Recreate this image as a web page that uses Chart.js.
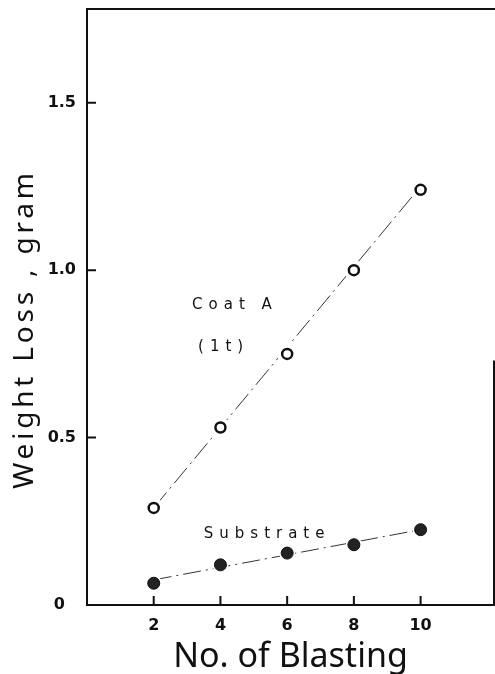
<!DOCTYPE html>
<html>
<head>
<meta charset="utf-8">
<script src="https://cdn.jsdelivr.net/npm/chart.js@4"></script>
<style>
  html, body { margin: 0; padding: 0; background: #fff; }
  #wrap { width: 495px; height: 674px; }
</style>
</head>
<body>
<div id="wrap"><canvas id="myChart"></canvas></div>
<script>
const blastings = [2, 4, 6, 8, 10];
const coatA = [0.29, 0.53, 0.75, 1.0, 1.24];
const substrate = [0.065, 0.12, 0.155, 0.18, 0.225];

const fitX = [2, 10];
const coatAFit = [0.29, 1.25];
const substrateFit = [0.075, 0.225];

const xTicks = [2, 4, 6, 8, 10];
const yTicks = [0, 0.5, 1.0, 1.5];
const yTickLabels = ['0  ', '0.5', '1.0', '1.5'];

const xTitle = 'No. of Blasting';
const yTitle = 'Weight Loss , gram';

const notes = [
  { text: 'Coat A', x: 3.15, y: 0.896 },
  { text: '(1t)', x: 3.33, y: 0.77 },
  { text: 'Substrate', x: 3.5, y: 0.212 },
];

const ink = '#111';
const toPoints = (xs, ys) => xs.map((x, i) => ({ x: x, y: ys[i] }));

// keep the plot box where the reference has it
const fixBox = (s, key, size) => {
  s[key] = size;
  s.paddingTop = 0;
  s.paddingBottom = 0;
  s.paddingLeft = 0;
  s.paddingRight = 0;
};


//Frame, inward ticks, y title and in-plot labels
const framePlugin = {
  id: 'frame',
  afterDraw(chart) {
    const { ctx, chartArea } = chart;
    const xs = chart.scales.x;
    const ys = chart.scales.y;
    ctx.save();
    ctx.strokeStyle = ink;
    ctx.lineWidth = 2;
    ctx.beginPath();
    ctx.moveTo(chartArea.left, chartArea.top);
    ctx.lineTo(chart.width, chartArea.top);
    // only the lower part of the right edge shows in the scan
    ctx.moveTo(chartArea.right, ys.getPixelForValue(0.73));
    ctx.lineTo(chartArea.right, chartArea.bottom);
    xTicks.forEach(v => {
      const px = xs.getPixelForValue(v);
      ctx.moveTo(px, chartArea.bottom);
      ctx.lineTo(px, chartArea.bottom - 9);
    });
    yTicks.filter(v => v > 0).forEach(v => {
      const py = ys.getPixelForValue(v);
      ctx.moveTo(chartArea.left, py);
      ctx.lineTo(chartArea.left + 9, py);
    });
    ctx.stroke();

    ctx.fillStyle = ink;
    ctx.font = '15px "DejaVu Sans"';
    ctx.letterSpacing = '6px';
    ctx.textBaseline = 'middle';
    notes.forEach(n => ctx.fillText(n.text, xs.getPixelForValue(n.x), ys.getPixelForValue(n.y)));

    ctx.translate(33, (chartArea.top + chartArea.bottom) / 2 + 22);
    ctx.rotate(-Math.PI / 2);
    ctx.font = '28px "Noto Sans"';
    ctx.letterSpacing = '3.8px';
    ctx.textAlign = 'center';
    ctx.textBaseline = 'alphabetic';
    ctx.fillText(yTitle, 0, 0);
    ctx.restore();
  }
};


const data = {
  datasets: [
    {
      label: 'Coat A (1t)',
      data: toPoints(blastings, coatA),
      order: 0,
      pointRadius: 5,
      pointBorderWidth: 2.5,
      pointBorderColor: ink,
      pointBackgroundColor: '#fff',
    },
    {
      label: 'Substrate',
      data: toPoints(blastings, substrate),
      order: 0,
      pointRadius: 6,
      pointBorderWidth: 1,
      pointBorderColor: ink,
      pointBackgroundColor: '#222',
    },
    // white halos so the fit lines stop short of the markers
    {
      data: toPoints(blastings, coatA),
      order: 1,
      pointRadius: 10,
      pointBorderWidth: 0,
      pointBackgroundColor: '#fff',
    },
    {
      data: toPoints(blastings, substrate),
      order: 1,
      pointRadius: 8,
      pointBorderWidth: 0,
      pointBackgroundColor: '#fff',
    },
    {
      data: toPoints(fitX, coatAFit),
      order: 2,
      showLine: true,
      pointRadius: 0,
      borderColor: '#333',
      borderWidth: 1,
      borderDash: [20, 5, 2, 5],
    },
    {
      data: toPoints(fitX, substrateFit),
      order: 2,
      showLine: true,
      pointRadius: 0,
      borderColor: '#333',
      borderWidth: 1,
      borderDash: [18, 5, 2, 5],
    },
  ]
};

const tickFont = { family: 'DejaVu Sans', size: 16, weight: 'bold' };

const config = {
  type: 'scatter',
  data: data,
  options: {
    responsive: true,
    maintainAspectRatio: false,
    animation: false,
    layout: { autoPadding: false, padding: { top: 9, right: 1, left: 0, bottom: 0 } },
    plugins: {
      legend: { display: false },
      tooltip: { enabled: false },
    },
    scales: {
      x: {
        type: 'linear',
        min: 0,
        max: 12.2,
        afterBuildTicks: s => { s.ticks = xTicks.map(v => ({ value: v })); },
        afterFit: s => fixBox(s, 'height', 69),
        grid: { display: false, drawTicks: false, tickLength: 0 },
        border: { display: true, color: ink, width: 2 },
        ticks: { padding: 11, color: ink, font: tickFont, maxRotation: 0 },
        title: {
          display: true,
          text: xTitle,
          color: ink,
          font: { family: 'Noto Sans', size: 34, lineHeight: 1 },
          padding: { top: 0, bottom: 0 },
        }
      },
      y: {
        type: 'linear',
        min: 0,
        max: 1.78,
        afterBuildTicks: s => { s.ticks = yTicks.map(v => ({ value: v })); },
        afterFit: s => fixBox(s, 'width', 87),
        grid: { display: false, drawTicks: false, tickLength: 0 },
        border: { display: true, color: ink, width: 2 },
        ticks: {
          padding: 11,
          color: ink,
          font: tickFont,
          callback: v => yTickLabels[yTicks.indexOf(v)],
        },
        title: { display: false }
      }
    }
  },
  plugins: [framePlugin]
};

const myChart = new Chart(document.getElementById('myChart'), config);
</script>
</body>
</html>
